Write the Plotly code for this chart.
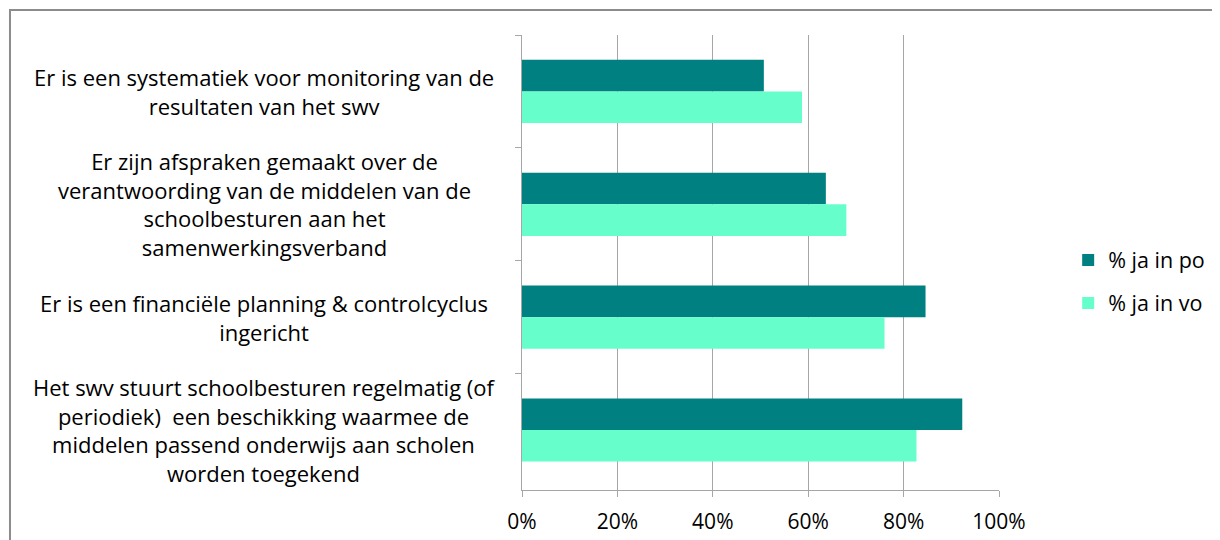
import plotly.graph_objects as go

categories = [
    "Er is een systematiek voor monitoring van de<br>resultaten van het swv",
    "Er zijn afspraken gemaakt over de<br>verantwoording van de middelen van de<br>schoolbesturen aan het<br>samenwerkingsverband",
    "Er is een financiële planning & controlcyclus<br>ingericht",
    "Het swv stuurt schoolbesturen regelmatig (of<br>periodiek)  een beschikking waarmee de<br>middelen passend onderwijs aan scholen<br>worden toegekend",
]
cat_keys = ["c1", "c2", "c3", "c4"]
po_values = [0.507, 0.637, 0.846, 0.923]
vo_values = [0.587, 0.680, 0.760, 0.827]
series_names = ["% ja in po", "% ja in vo"]
colors = ["#008080", "#66FFCC"]
x_ticks = [0, 0.2, 0.4, 0.6, 0.8, 1.0]

FONT = "Open Sans"

fig = go.Figure()
for name, vals, col, grp in zip(series_names, [po_values, vo_values], colors, ["g1", "g2"]):
    fig.add_trace(go.Bar(
        y=cat_keys, x=vals, name=name, orientation="h",
        marker=dict(color=col, line=dict(width=0)),
        legendgroup=grp,
    ))

for key, label in zip(cat_keys, categories):
    fig.add_annotation(
        x=-0.54, xref="paper", y=key, yref="y",
        text=label, showarrow=False, align="center",
        xanchor="center", yanchor="middle",
        font=dict(family=FONT, size=22, color="#000000"),
    )

# outer chart border
fig.add_shape(type="rect", xref="paper", yref="paper",
              x0=-1.0734, x1=1.5, y0=-0.3, y1=1.0549,
              line=dict(color="#8c8c8c", width=2), fillcolor="rgba(0,0,0,0)", layer="below")

fig.update_layout(
    width=1212, height=532,
    margin=dict(l=514, r=221, t=27, b=50, autoexpand=False),
    barmode="group", bargap=0.44, bargroupgap=0,
    plot_bgcolor="white", paper_bgcolor="white",
    font=dict(family=FONT, size=21, color="#000000"),
    legend=dict(x=1.145, y=0.458, xanchor="left", yanchor="middle",
                font=dict(family=FONT, size=21.5, color="#000000"),
                tracegroupgap=12, bgcolor="rgba(0,0,0,0)"),
    xaxis=dict(range=[0, 1], tickvals=x_ticks, tickformat=".0%",
               showgrid=True, gridcolor="#a6a6a6", gridwidth=1,
               showline=True, linecolor="#a6a6a6", linewidth=1,
               ticks="outside", ticklen=6, tickcolor="#a6a6a6",
               zeroline=False, ticklabelstandoff=7, automargin=False,
               tickfont=dict(family=FONT, size=21, color="#000000")),
    yaxis=dict(autorange="reversed", tickson="boundaries", showticklabels=False,
               showgrid=False, showline=True, linecolor="#a6a6a6", linewidth=1,
               ticks="outside", ticklen=6, tickcolor="#a6a6a6", automargin=False),
)

fig.write_html("out.html")
